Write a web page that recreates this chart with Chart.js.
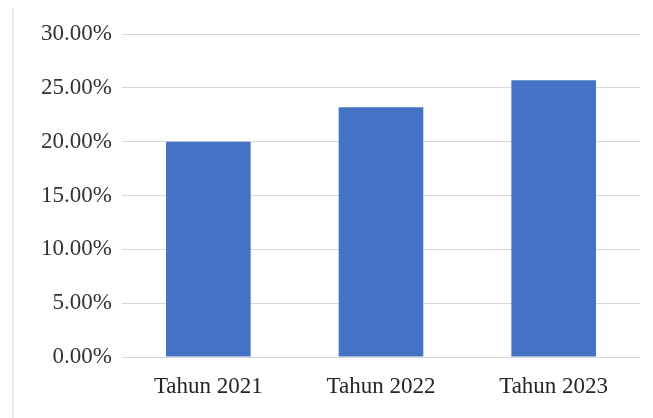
<!DOCTYPE html>
<html>
<head>
<meta charset="utf-8">
<script src="https://cdn.jsdelivr.net/npm/chart.js@4/dist/chart.umd.min.js"></script>
<style>
  html, body { margin: 0; padding: 0; background: #ffffff; }
  #wrap { position: relative; width: 653px; height: 418px; }
  #frame { position: absolute; left: 12px; top: 7px; width: 2px; height: 411px; background: #ececec; }
  canvas { position: absolute; left: 0; top: 0; }
</style>
</head>
<body>
<div id="wrap">
  <div id="frame"></div>
  <canvas id="c" width="653" height="418"></canvas>
</div>
<script>
const categories = ["Tahun 2021", "Tahun 2022", "Tahun 2023"];
const values = [20.0, 23.2, 25.7];
const yMin = 0;
const yMax = 30;
const yStep = 5;

const FONT = "'Liberation Serif', 'Times New Roman', serif";

new Chart(document.getElementById('c'), {
  type: 'bar',
  data: {
    labels: categories,
    datasets: [{
      data: values,
      backgroundColor: '#4472C4',
      borderWidth: 0,
      categoryPercentage: 1.0,
      barPercentage: 0.49
    }]
  },
  options: {
    responsive: false,
    animation: false,
    devicePixelRatio: 1,
    layout: { padding: { top: 34, right: 13, left: 0, bottom: 0 } },
    plugins: { legend: { display: false }, tooltip: { enabled: false } },
    scales: {
      x: {
        grid: { display: false },
        border: { display: false },
        ticks: {
          color: '#262626',
          font: { family: FONT, size: 23 },
          padding: 8,
          maxRotation: 0
        },
        afterFit: (s) => { s.height = 61; }
      },
      y: {
        min: yMin,
        max: yMax,
        grid: { color: '#d9d9d9', lineWidth: 1, drawTicks: false },
        border: { display: false },
        ticks: {
          stepSize: yStep,
          color: '#333333',
          font: { family: FONT, size: 23 },
          padding: 10,
          callback: (v) => v.toFixed(2) + '%'
        },
        afterFit: (s) => { s.width = 122; }
      }
    }
  }
});
</script>
</body>
</html>
